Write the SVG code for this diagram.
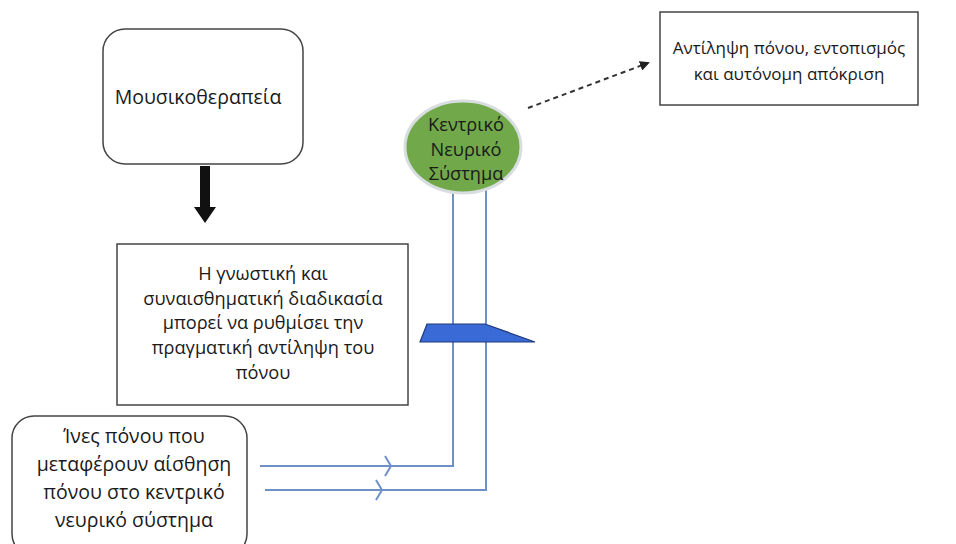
<svg xmlns="http://www.w3.org/2000/svg" width="956" height="544" viewBox="0 0 956 544">
<defs>
<style>
text{font-family:"Open Sans","Noto Sans","DejaVu Sans",sans-serif;font-size:17px;fill:#1a1a1a;text-anchor:middle}
.big{font-size:19.5px}
.mid{font-size:18.2px}
.box{fill:#fff;stroke:#444;stroke-width:1.5}
.nerve{fill:none;stroke:#6f8fc6;stroke-width:2}
</style>
<marker id="ah" markerWidth="10" markerHeight="10" refX="8" refY="5" orient="auto" markerUnits="userSpaceOnUse">
<path d="M0,0 L10,5 L0,10 Z" fill="#222"/>
</marker>
</defs>
<rect width="956" height="544" fill="#fff"/>
<g id="connectors">
<path d="M200,166 H210 V207 H216 L205,223 L194,207 H200 Z" fill="#111"/>
<line x1="528" y1="108" x2="648" y2="63" stroke="#333" stroke-width="2" stroke-dasharray="5,4" marker-end="url(#ah)"/>
<path class="nerve" d="M453,192 V466 H260"/>
<path class="nerve" d="M486,190 V490 H265"/>
<path class="nerve" d="M385,456 L391,466 L385,476"/>
<path class="nerve" d="M376,480 L382,490 L376,500"/>
<path d="M427,324 H485 L535,342 H420 Z" fill="#3a6ad6" stroke="#1f3a7a" stroke-width="1.2"/>
</g>
<g id="musicotherapy">
<rect class="box" x="103" y="29" width="200" height="135" rx="22"/>
<text class="big" x="198" y="104">Μουσικοθεραπεία</text>
</g>
<g id="cognitive">
<rect class="box" x="117" y="244" width="291" height="161"/>
<text class="mid" x="263" y="280">Η γνωστική και</text>
<text class="mid" x="263" y="305">συναισθηματική διαδικασία</text>
<text class="mid" x="263" y="329">μπορεί να ρυθμίσει την</text>
<text class="mid" x="263" y="354">πραγματική αντίληψη του</text>
<text class="mid" x="263" y="379">πόνου</text>
</g>
<g id="cns">
<ellipse cx="463" cy="147" rx="58" ry="46" fill="#71a94a" stroke="#d8dde0" stroke-width="3"/>
<text class="mid" x="466" y="131">Κεντρικό</text>
<text class="mid" x="466" y="156">Νευρικό</text>
<text class="mid" x="466" y="180">Σύστημα</text>
</g>
<g id="perception">
<rect class="box" x="660" y="12" width="258" height="93"/>
<text x="789" y="54">Αντίληψη πόνου, εντοπισμός</text>
<text x="789" y="80">και αυτόνομη απόκριση</text>
</g>
<g id="fibers">
<rect class="box" x="12" y="416" width="235" height="140" rx="22"/>
<text class="big" x="134" y="443">Ίνες πόνου που</text>
<text class="big" x="134" y="471">μεταφέρουν αίσθηση</text>
<text class="big" x="134" y="499">πόνου στο κεντρικό</text>
<text class="big" x="134" y="527">νευρικό σύστημα</text>
</g>
</svg>
